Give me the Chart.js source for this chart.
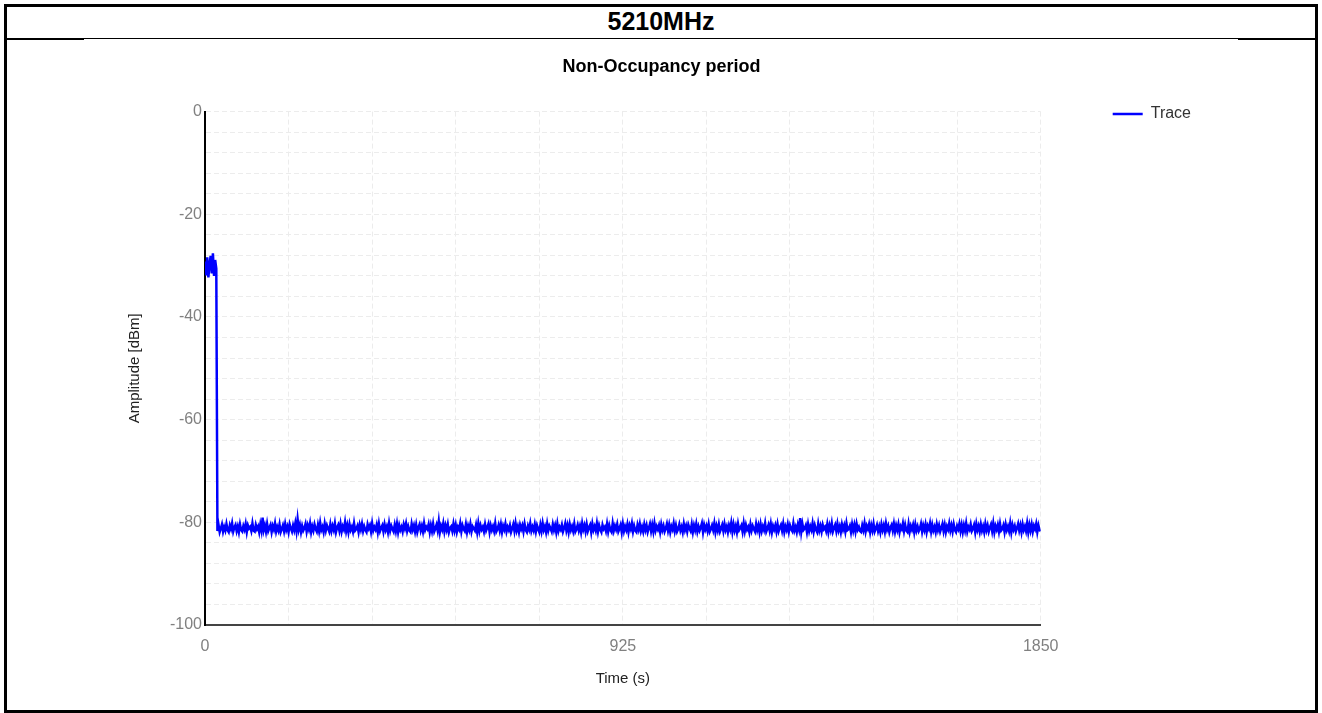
<!DOCTYPE html>
<html>
<head>
<meta charset="utf-8">
<title>5210MHz - Non-Occupancy period</title>
<script src="https://cdn.jsdelivr.net/npm/chart.js@4.4.1/dist/chart.umd.min.js"></script>
<style>
    body { margin: 0; background: #fff; font-family: "Liberation Sans", Arial, sans-serif; }
    #frame { position: absolute; left: 4px; top: 4px; width: 1308px; height: 703px; border: 3px solid #000; }
    #head { position: absolute; left: 7px; top: 7px; width: 1308px; height: 31px; border-bottom: 1px solid #000;
            text-align: center; font-weight: bold; font-size: 25px; line-height: 29px; color: #000; }
    .cap { position: absolute; top: 38px; height: 2px; background: #000; }
    #chart-box { position: absolute; left: 8px; top: 41px; width: 1305px; height: 669px; }
</style>
</head>
<body>
<div id="frame"></div>
<div id="head">5210MHz</div>
<div class="cap" style="left:7px;width:77px"></div>
<div class="cap" style="left:1238px;width:77px"></div>
<div id="chart-box"><canvas id="trace-chart"></canvas></div>

<script>
    // данные трассы: отсчёты каждые 2.5 с, от 0 до 1850 с
    const sampleInterval = 2.5;
    const traceLabel = 'Trace';

    // до отключения канала (~27 с) сигнал около -30 дБм
    const occupiedValues = [-29.2, -31.9, -28.4, -32.3, -29.8, -28.1, -31.5, -27.6, -32.0, -28.9, -30.6];

    // после - только шум около -81 дБм
    const noiseValues = [
        -81.7,-80.5,-81.9,-81.2,-80.4,-81.8,-80.9,-81.6,-80.3,-81.5,-81.9,-80.6,-81.3,-80.2,-81.8,-81.0,-80.5,-81.7,-80.8,-81.9,
        -80.4,-81.5,-81.8,-80.7,-81.4,-80.3,-81.9,-80.6,-81.2,-80.9,-81.7,-80.2,-81.6,-81.8,-80.5,-81.3,-80.8,-81.9,-80.4,-81.6,
        -79.1,-81.5,-80.6,-81.8,-80.3,-81.7,-81.1,-80.5,-81.9,-80.7,-81.4,-80.2,-81.8,-80.9,-81.6,-80.4,-81.9,-81.3,-80.6,-81.7,
        -80.3,-81.5,-80.8,-81.9,-80.4,-81.2,-81.8,-80.6,-81.5,-80.2,-81.7,-79.4,-81.4,-80.5,-81.9,-80.7,-81.6,-81.1,-80.3,-81.8,
        -80.6,-81.4,-80.2,-81.9,-80.8,-81.6,-80.4,-81.3,-81.8,-80.5,-81.7,-80.1,-81.5,-80.9,-81.9,-80.3,-81.6,-80.6,-81.2,-81.8,
        -80.4,-81.7,-80.7,-81.5,-80.2,-81.9,-81.0,-80.5,-81.6,-80.3,-81.8,-80.8,-81.4,-80.0,-81.7,-80.6,-81.9,-80.4,-81.5,-80.9,
        -81.8,-80.2,-81.6,-81.3,-80.7,-81.9,-80.5,-81.4,-80.3,-81.7,-80.8,-81.5,-81.9,-80.4,-81.2,-80.6,-81.8,-80.2,-81.6,-80.9,
        -81.4,-80.5,-81.9,-80.3,-81.7,-81.1,-80.6,-81.8,-80.4,-81.5,-80.8,-81.9,-80.2,-81.6,-80.7,-81.3,-81.8,-80.5,-81.7,-80.3,
        -81.9,-80.6,-81.5,-80.9,-81.8,-80.4,-81.2,-80.2,-81.7,-80.8,-81.6,-81.9,-80.3,-81.4,-80.6,-81.8,-80.5,-81.9,-81.0,-80.4,
        -81.6,-80.7,-81.8,-80.2,-81.5,-80.9,-81.3,-80.4,-81.9,-80.6,-81.7,-80.3,-81.8,-81.2,-80.5,-81.6,-79.8,-81.9,-80.7,-81.4,
        -80.2,-81.8,-80.6,-81.5,-80.4,-81.9,-81.1,-80.8,-81.7,-80.3,-81.6,-80.5,-81.9,-80.9,-81.4,-80.2,-81.8,-80.6,-81.3,-81.7,
        -80.4,-81.9,-80.7,-81.5,-80.3,-81.8,-80.8,-81.2,-81.6,-80.5,-81.9,-80.2,-81.7,-80.6,-81.4,-80.9,-81.8,-80.4,-81.6,-81.0,
        -80.3,-81.9,-80.6,-81.5,-80.8,-81.7,-80.2,-81.8,-81.3,-80.5,-81.6,-80.4,-81.9,-80.7,-81.4,-80.3,-81.8,-80.9,-81.5,-80.6,
        -81.9,-81.2,-80.4,-81.7,-80.2,-81.6,-80.8,-81.9,-80.5,-81.3,-80.6,-81.8,-80.3,-81.5,-81.9,-80.7,-81.4,-80.2,-81.7,-80.9,
        -81.6,-80.4,-81.8,-80.6,-81.3,-81.9,-80.5,-81.7,-80.2,-81.5,-80.8,-81.9,-80.3,-81.6,-80.7,-81.2,-81.8,-80.4,-81.5,-80.6,
        -81.9,-80.3,-81.7,-80.9,-81.4,-80.5,-81.8,-81.1,-80.2,-81.6,-80.6,-81.9,-80.4,-81.5,-80.8,-81.7,-80.3,-81.8,-81.3,-80.5,
        -81.6,-80.7,-81.9,-80.2,-81.4,-80.6,-81.8,-80.4,-81.7,-81.0,-80.5,-81.9,-80.3,-81.5,-80.8,-81.6,-80.2,-81.8,-80.6,-81.4,
        -81.9,-80.5,-81.3,-80.9,-81.7,-80.3,-81.8,-80.6,-81.5,-81.9,-80.2,-81.6,-80.7,-81.4,-80.4,-81.8,-81.2,-80.5,-81.9,-80.3,
        -81.7,-80.8,-81.5,-80.4,-81.9,-80.6,-81.3,-80.2,-81.8,-80.7,-81.6,-81.9,-80.5,-81.4,-80.3,-81.7,-80.9,-81.8,-80.4,-81.5,
        -80.6,-81.9,-81.1,-80.3,-81.7,-80.5,-81.8,-80.2,-81.6,-80.8,-81.4,-80.6,-81.9,-80.4,-81.5,-80.7,-81.8,-81.2,-80.3,-81.6,
        -80.5,-81.9,-80.8,-81.4,-80.2,-81.7,-80.6,-81.8,-81.3,-80.4,-81.6,-80.9,-81.9,-80.3,-81.5,-80.7,-81.8,-80.5,-81.2,-81.7,
        -80.4,-81.9,-80.6,-81.5,-80.3,-81.8,-80.8,-81.6,-81.0,-80.2,-81.9,-80.5,-81.4,-80.7,-81.7,-80.4,-81.8,-81.3,-80.6,-81.5,
        -80.2,-81.9,-80.7,-81.6,-80.4,-81.8,-81.2,-80.5,-81.7,-80.3,-81.5,-80.8,-81.9,-80.6,-81.4,-80.1,-81.8,-80.4,-81.6,-80.7,
        -81.9,-80.3,-81.5,-81.1,-80.6,-81.8,-80.2,-81.7,-80.5,-81.4,-80.9,-81.9,-80.4,-81.6,-80.7,-81.3,-81.8,-80.3,-81.5,-80.6,
        -81.9,-80.4,-81.7,-80.8,-81.5,-80.2,-81.8,-81.2,-80.5,-81.6,-80.3,-81.9,-80.7,-81.4,-80.6,-81.8,-80.4,-81.7,-81.0,-80.5,
        -81.6,-80.3,-81.9,-80.8,-81.5,-80.4,-81.8,-80.6,-81.3,-81.7,-80.2,-81.6,-80.9,-81.9,-80.5,-81.4,-79.2,-81.8,-80.3,-81.5,
        -81.2,-80.6,-81.9,-80.4,-81.7,-80.8,-81.5,-80.2,-81.8,-80.6,-81.4,-81.9,-80.3,-81.6,-80.7,-81.8,-80.5,-81.3,-80.9,-81.7,
        -80.4,-81.9,-80.6,-81.5,-80.2,-81.8,-81.1,-80.5,-81.7,-80.3,-81.6,-80.8,-81.9,-80.4,-81.4,-80.6,-81.8,-80.2,-81.5,-81.3,
        -80.7,-81.9,-80.4,-81.6,-80.5,-81.8,-80.3,-81.4,-80.9,-81.7,-81.9,-80.6,-81.5,-80.2,-81.8,-80.7,-81.3,-80.4,-81.9,-80.6,
        -81.6,-80.3,-81.8,-81.2,-80.5,-81.7,-80.8,-81.9,-80.4,-81.5,-80.6,-81.8,-80.2,-81.4,-80.7,-81.9,-81.0,-80.5,-81.6,-80.3,
        -81.8,-80.6,-81.5,-80.4,-81.9,-80.8,-81.3,-80.2,-81.7,-80.5,-81.6,-81.9,-80.3,-81.8,-80.7,-81.4,-80.5,-81.9,-80.4,-81.6,
        -80.8,-81.7,-81.2,-80.3,-81.8,-80.6,-81.5,-80.4,-81.9,-80.7,-81.3,-80.2,-81.8,-80.5,-81.6,-80.9,-81.9,-80.4,-81.5,-80.6,
        -81.8,-81.1,-80.3,-81.7,-80.5,-81.9,-80.8,-81.4,-80.2,-81.6,-80.6,-81.8,-80.4,-81.5,-81.9,-80.7,-81.3,-80.3,-81.7,-80.5,
        -81.9,-80.6,-81.6,-80.2,-81.8,-80.9,-81.4,-80.4,-81.7,-81.2,-80.5,-81.9,-80.3,-81.5,-80.7,-81.8,-80.4,-81.6,-80.8,-81.9,
        -80.3,-81.5,-80.6,-81.8,-81.0,-80.4,-81.7,-80.2,-81.9,-80.7,-81.4,-80.5,-81.8,-80.3,-81.6,-81.3,-80.6,-81.9,-80.4,-81.5,
        -80.8,-81.7,-80.2,-81.9,-80.5,-81.4,-80.7,-81.8,-81.1,-80.3,-81.6,-80.6,-81.9,-80.4,-81.5,-80.8,-81.7,-80.2,-81.9,-80.5,
        -81.6,-80.4,-81.8,-80.7,-81.3,-80.3,-81.9,-80.6,-81.5,-81.7
    ];

    // оси
    const timeMin = 0;
    const timeMax = 1850;
    const timeGridStep = 185;
    const timeTickLabels = [0, 925, 1850];
    const ampMin = -100;
    const ampMax = 0;
    const ampGridStep = 4;
    const ampTickLabels = [0, -20, -40, -60, -80, -100];

    const traceValues = occupiedValues.concat(noiseValues);
    const tracePoints = traceValues.map((v, i) => ({x: i * sampleInterval, y: v}));

    const tickFont = {family: '"Liberation Sans", Arial, sans-serif', size: 16};
    const titleFont = {family: '"Liberation Sans", Arial, sans-serif', size: 15};

    new Chart(document.getElementById('trace-chart'), {
        type: 'line',
        data: {
            datasets: [{
                label: traceLabel,
                data: tracePoints,
                borderColor: '#0000ff',
                backgroundColor: '#0000ff',
                borderWidth: 2.5,
                pointRadius: 0,
                tension: 0,
                fill: false
            }]
        },
        options: {
            responsive: true,
            maintainAspectRatio: false,
            animation: false,
            layout: {
                padding: {top: -7, left: 114, right: 112, bottom: 18}
            },
            plugins: {
                title: {
                    display: true,
                    text: 'Non-Occupancy period',
                    color: '#000',
                    font: {family: '"Liberation Sans", Arial, sans-serif', size: 18, weight: 'bold'},
                    padding: {top: 22, bottom: 34}
                },
                legend: {
                    position: 'right',
                    align: 'start',
                    labels: {
                        usePointStyle: true,
                        pointStyle: 'line',
                        pointStyleWidth: 30,
                        padding: 72,
                        color: '#333',
                        font: {family: '"Liberation Sans", Arial, sans-serif', size: 16}
                    }
                },
                tooltip: {enabled: false}
            },
            scales: {
                x: {
                    type: 'linear',
                    min: timeMin,
                    max: timeMax,
                    afterFit: (scale) => { scale.height = 67; },
                    ticks: {
                        stepSize: timeGridStep,
                        autoSkip: false,
                        maxRotation: 0,
                        padding: 12,
                        color: '#808080',
                        font: tickFont,
                        callback: (value) => timeTickLabels.includes(value) ? String(value) : ''
                    },
                    grid: {color: '#ececec', drawTicks: false},
                    border: {color: '#444', width: 2, dash: [5, 3]},
                    title: {display: true, text: 'Time (s)', color: '#222', font: titleFont}
                },
                y: {
                    min: ampMin,
                    max: ampMax,
                    afterFit: (scale) => { scale.width = 83; },
                    ticks: {
                        stepSize: ampGridStep,
                        autoSkip: false,
                        padding: 3,
                        color: '#808080',
                        font: tickFont,
                        callback: (value) => ampTickLabels.includes(value) ? String(value) : ''
                    },
                    grid: {color: '#ececec', drawTicks: false},
                    border: {color: '#000', width: 2, dash: [5, 3]},
                    title: {display: true, text: 'Amplitude [dBm]', color: '#222', font: titleFont}
                }
            }
        }
    });
</script>
</body>
</html>
